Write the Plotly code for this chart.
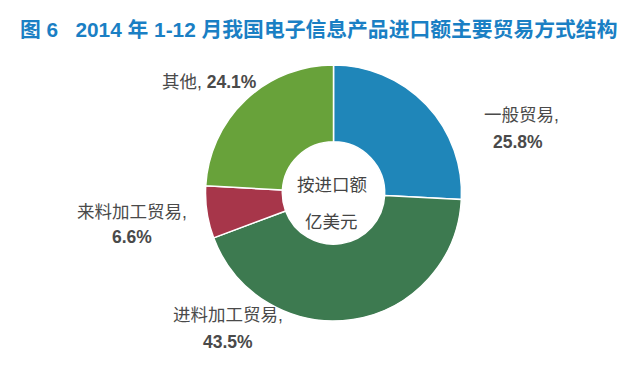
import plotly.graph_objects as go

categories = ["一般贸易", "进料加工贸易", "来料加工贸易", "其他"]
values = [25.8, 43.5, 6.6, 24.1]
colors = ["#1f86b9", "#3d7a50", "#a7364a", "#68a23a"]
title_text = "图 6 &nbsp; 2014 年 1-12 月我国电子信息产品进口额主要贸易方式结构"
center_lines = ["按进口额", "亿美元"]

font_family = "Liberation Sans, Arial, Noto Sans CJK SC, sans-serif"

fig = go.Figure(go.Pie(
    labels=categories,
    values=values,
    sort=False,
    direction="clockwise",
    rotation=0,
    hole=0.4,
    marker=dict(colors=colors, line=dict(color="white", width=1.5)),
    textinfo="none",
    hoverinfo="label+percent",
    domain=dict(x=[0.3086, 0.7086], y=[0.1518, 0.8455]),
    showlegend=False,
))

# label anchor positions in paper coords: (name x, name y, pct x, pct y)
label_pos = {
    "一般贸易": (0.8031, 0.710, 0.7969, 0.6369),
    "进料加工贸易": (0.3445, 0.168, 0.3438, 0.0949),
    "来料加工贸易": (0.1945, 0.4472, 0.1938, 0.3794),
    "其他": (0.3156, 0.7995, None, None),
}
label_font = dict(family=font_family, size=17.5, color="#4a4a4a")
common = dict(xref="paper", yref="paper", showarrow=False,
              xanchor="center", yanchor="middle")
annotations = []
for cat, val in zip(categories, values):
    nx, ny, px, py = label_pos[cat]
    if px is None:
        annotations.append(dict(x=nx, y=ny, text=f"{cat}, <b>{val}%</b>",
                                font=label_font, **common))
    else:
        annotations.append(dict(x=nx, y=ny, text=f"{cat},", font=label_font, **common))
        annotations.append(dict(x=px, y=py, text=f"<b>{val}%</b>", font=label_font, **common))

center_font = dict(family=font_family, size=17.5, color="#444444")
annotations.append(dict(x=0.50625, y=0.5203, text=center_lines[0], font=center_font, **common))
annotations.append(dict(x=0.5055, y=0.420, text=center_lines[1], font=center_font, **common))

fig.update_layout(
    width=640, height=369,
    margin=dict(l=0, r=0, t=0, b=0),
    paper_bgcolor="white", plot_bgcolor="white",
    title=dict(text=f"<b>{title_text}</b>", x=0.01875, xanchor="left", y=0.9404, yanchor="middle",
               font=dict(family=font_family, size=20.8, color="#1a7fc4")),
    annotations=annotations,
)

fig.write_html("out.html")
